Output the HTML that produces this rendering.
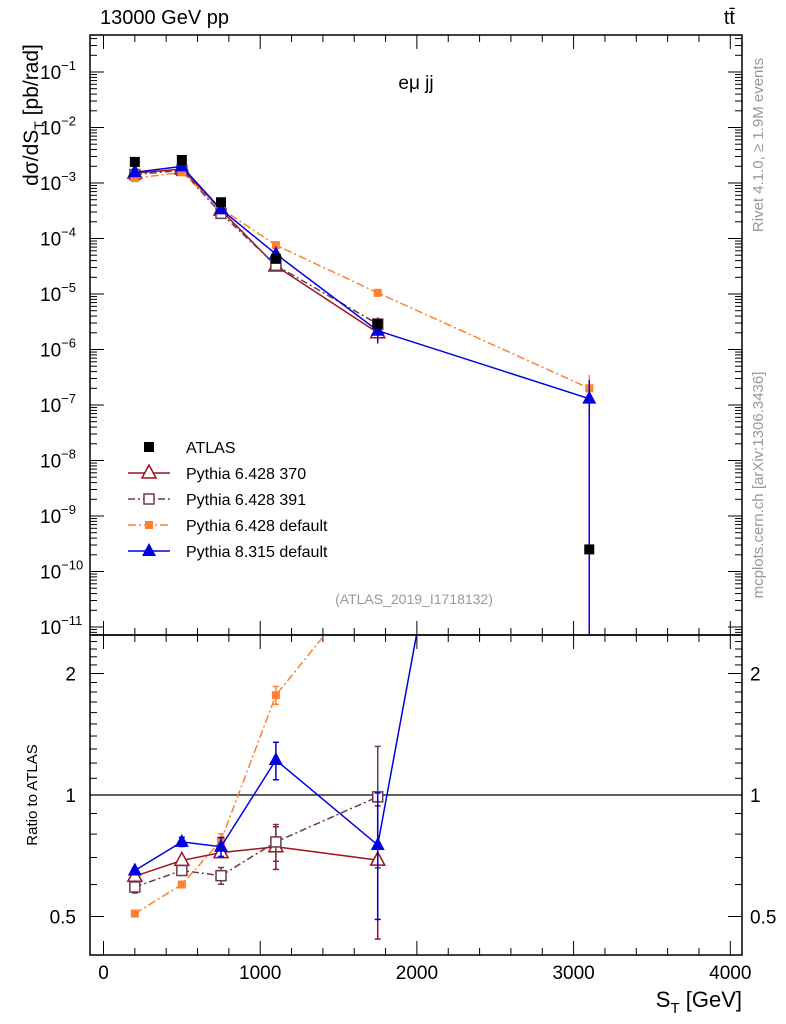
<!DOCTYPE html>
<html><head><meta charset="utf-8"><style>
html,body{margin:0;padding:0;background:#fff;overflow:hidden;width:786px;height:1024px;}
svg{display:block;font-family:"Liberation Sans",sans-serif;overflow:hidden;}
</style></head><body>
<svg id="c" width="786" height="1024" xmlns="http://www.w3.org/2000/svg"></svg>
<script>
const xs=[200,500,750,1100,1750,3100];
const atlas=[2.4e-3,2.6e-3,4.5e-4,4.3e-5,2.9e-6,2.5e-10];
const py370=[1.51e-3,1.79e-3,3.24e-4,3.2e-5,2.0e-6];
const py391=[1.42e-3,1.69e-3,2.84e-4,3.29e-5,2.87e-6];
const pydef=[1.22e-3,1.56e-3,3.47e-4,7.6e-5,1.05e-5,2.0e-7];
const py8=[1.56e-3,1.99e-3,3.35e-4,5.25e-5,2.18e-6,1.3e-7];
const err370=[0.02,0.01,0.02,0.09,0.25];
const err391=[0.02,0.01,0.03,0.08,0.33];
const errdef=[0.005,0.01,0.03,0.09,0.5,600];
const err8=[0.01,0.02,0.04,0.13,0.26,600];
const xTicks=[0,1000,2000,3000,4000];
const yExps=[-1,-2,-3,-4,-5,-6,-7,-8,-9,-10,-11];
const rTicks=[0.5,1,2];

const S=document.getElementById('c');const NS='http://www.w3.org/2000/svg';
function el(t,a,p){const e=document.createElementNS(NS,t);for(const k in a)e.setAttribute(k,a[k]);(p||S).appendChild(e);return e;}
const L=90,R=742,T=35,M=635,B=955;
const X=v=>103.5+v*0.1567;
const Y=v=>72+(-1-Math.log10(v))*55.5;
const RY=v=>795-Math.log2(v)*121.5;
const RMAX=2.45;
const defs=el('defs',{});
const c1=el('clipPath',{id:'cm'},defs);el('rect',{x:L,y:T,width:R-L,height:M-T},c1);
const c2=el('clipPath',{id:'cr'},defs);el('rect',{x:L,y:M,width:R-L,height:B-M},c2);
let f=el('rect',{x:L,y:T,width:R-L,height:M-T,fill:'none',stroke:'#000','stroke-width':1.5});

f=el('rect',{x:L,y:M,width:R-L,height:B-M,fill:'none',stroke:'#000','stroke-width':1.5});

for(let v=0;v<=4000;v+=200){const x=X(v),big=v%1000==0,h=big?14:7;
 for(const [y0,dir] of [[B,-1],[M,-1],[M,1],[T,1]]){el('line',{x1:x,x2:x,y1:y0,y2:y0+dir*h,stroke:'#000'});}}
xTicks.forEach(v=>{const t=el('text',{x:X(v),y:979,'font-size':19,'text-anchor':'middle'});t.textContent=v;
 });
for(let e=-12;e<=0;e++){for(let m=1;m<10;m++){const v=m*Math.pow(10,e),y=Y(v);if(y<T||y>M)continue;const h=m==1?14:7;
 el('line',{x1:L,x2:L+h,y1:y,y2:y,stroke:'#000'});el('line',{x1:R,x2:R-h,y1:y,y2:y,stroke:'#000'});}}
yExps.forEach(e=>{const t=el('text',{x:40,y:Y(Math.pow(10,e))+7,'font-size':19});
 t.innerHTML='10<tspan dy="-9" font-size="13">'+(e<0?'−'+(-e):e)+'</tspan>';
 });
for(let k=4;k<=25;k++){const v=k/10,y=RY(v);if(y<M||y>B)continue;const big=(k==5||k==10||k==20);
 el('line',{x1:L,x2:L+(big?14:7),y1:y,y2:y,stroke:'#000'});el('line',{x1:R,x2:R-(big?14:7),y1:y,y2:y,stroke:'#000'});}
rTicks.forEach(v=>{for(const [x,a] of [[76,'end'],[750,'start']]){const t=el('text',{x:x,y:RY(v)+7,'font-size':19,'text-anchor':a});t.textContent=v;
 }});
let ln=el('line',{x1:L,x2:R,y1:RY(1),y2:RY(1),stroke:'#000','stroke-width':1.2});

function marker(g,type,x,y,col){
 if(type=='sq')el('rect',{x:x-5,y:y-5,width:10,height:10,fill:'#000'},g);
 if(type=='osq')el('rect',{x:x-5,y:y-5,width:10,height:10,fill:'#fff',stroke:col,'stroke-width':1.5},g);
 if(type=='fsq')el('rect',{x:x-4,y:y-4,width:8,height:8,fill:col},g);
 if(type=='otri')el('path',{d:`M${x},${y-8}L${x+7},${y+5}L${x-7},${y+5}Z`,fill:'#fff',stroke:col,'stroke-width':1.5},g);
 if(type=='tri')el('path',{d:`M${x},${y-8}L${x+7},${y+5}L${x-7},${y+5}Z`,fill:col},g);
}
const series=[
 {name:'pythia-6-428-370',vals:py370,err:err370,col:'#a01020',dash:'',m:'otri'},
 {name:'pythia-6-428-391',vals:py391,err:err391,col:'#6b3a50',dash:'7,3,2,3',m:'osq'},
 {name:'pythia-6-428-default',vals:pydef,err:errdef,col:'#ff8030',dash:'8,3,2,3',m:'fsq'},
 {name:'pythia-8-315-default',vals:py8,err:err8,col:'#0000e0',dash:'',m:'tri'}];
series.forEach(s=>{
 const g=el('g',{'clip-path':'url(#cm)'});
 el('polyline',{points:s.vals.map((v,i)=>X(xs[i])+','+Y(v)).join(' '),fill:'none',stroke:s.col,'stroke-width':1.5,'stroke-dasharray':s.dash},g);
 s.vals.forEach((v,i)=>{const r=v/atlas[i],e=s.err[i];const lo=v*(1-e/r),hi=v*(1+Math.min(e/r,1.5));
  el('line',{x1:X(xs[i]),x2:X(xs[i]),y1:lo>0?Y(lo):M+5,y2:Y(hi),stroke:s.col,'stroke-width':1.5},g);
  marker(g,s.m,X(xs[i]),Y(v),s.col);});
 const g2=el('g',{'clip-path':'url(#cr)'});
 const rs=s.vals.map((v,i)=>v/atlas[i]);
 el('polyline',{points:rs.map((r,i)=>X(xs[i])+','+RY(r)).join(' '),fill:'none',stroke:s.col,'stroke-width':1.5,'stroke-dasharray':s.dash},g2);
 rs.forEach((r,i)=>{if(r>RMAX)return;const e=s.err[i];const x=X(xs[i]);
  el('line',{x1:x,x2:x,y1:RY(Math.max(r-e,0.01)),y2:RY(r+e),stroke:s.col,'stroke-width':1.5},g2);
  el('line',{x1:x-3,x2:x+3,y1:RY(Math.max(r-e,0.01)),y2:RY(Math.max(r-e,0.01)),stroke:s.col,'stroke-width':1.5},g2);
  el('line',{x1:x-3,x2:x+3,y1:RY(r+e),y2:RY(r+e),stroke:s.col,'stroke-width':1.5},g2);
  marker(g2,s.m,x,RY(r),s.col);});
});
const ga=el('g',{'clip-path':'url(#cm)'});
atlas.forEach((v,i)=>marker(ga,'sq',X(xs[i]),Y(v),'#000'));
const leg=[['ATLAS','sq','#000',''],['Pythia 6.428 370','otri','#a01020',''],['Pythia 6.428 391','osq','#6b3a50','7,3,2,3'],['Pythia 6.428 default','fsq','#ff8030','8,3,2,3'],['Pythia 8.315 default','tri','#0000e0','']];
leg.forEach((l,i)=>{const y=447+i*26;const g=el('g',{});
 if(i>0)el('line',{x1:128,x2:170,y1:y,y2:y,stroke:l[2],'stroke-width':1.5,'stroke-dasharray':l[3]},g);
 marker(g,l[1],149,y,l[2]);const t=el('text',{x:186,y:y+6,'font-size':16},g);t.textContent=l[0];});
function txt(s,a,name){const t=el('text',a);t.innerHTML=s;return t;}
txt('13000 GeV pp',{x:100,y:24,'font-size':20},'energy-label');
txt('tt̄',{x:735,y:24,'font-size':20,'text-anchor':'end'},'process-label');
txt('eμ jj',{x:416,y:89,'font-size':19,'text-anchor':'middle'},'channel-label');
txt('(ATLAS_2019_I1718132)',{x:414,y:604,'font-size':14,fill:'#999','text-anchor':'middle'},'analysis-label');
txt('dσ/dS<tspan dy="6" font-size="14">T</tspan><tspan dy="-6"> [pb/rad]</tspan>',{transform:'translate(38,115) rotate(-90)','font-size':21,'text-anchor':'middle'},'y-axis-title');
txt('Ratio to ATLAS',{transform:'translate(37,795) rotate(-90)','font-size':15,'text-anchor':'middle'},'ratio-axis-title');
txt('S<tspan dy="6" font-size="15">T</tspan><tspan dy="-6"> [GeV]</tspan>',{x:742,y:1007,'font-size':22,'text-anchor':'end'},'x-axis-title');
txt('Rivet 4.1.0, ≥ 1.9M events',{transform:'translate(763,145) rotate(-90)','font-size':15,fill:'#999','text-anchor':'middle'},'rivet-label');
txt('mcplots.cern.ch [arXiv:1306.3436]',{transform:'translate(763,485) rotate(-90)','font-size':15,fill:'#999','text-anchor':'middle'},'mcplots-label');
</script>
</body></html>
